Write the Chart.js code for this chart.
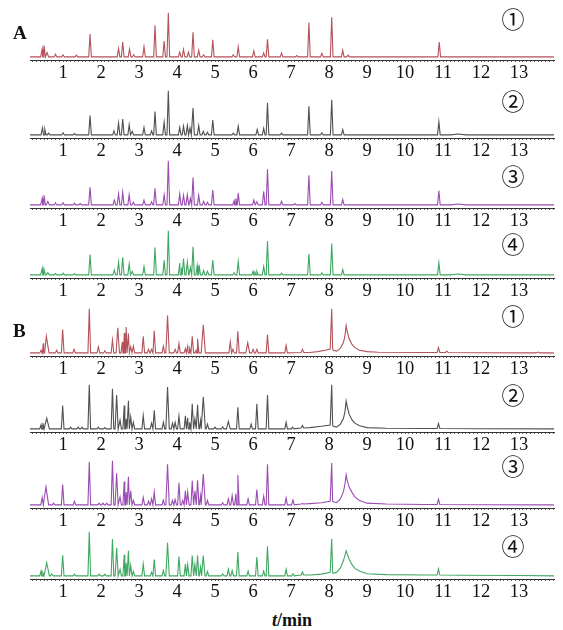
<!DOCTYPE html>
<html>
<head>
<meta charset="utf-8">
<script src="https://cdn.jsdelivr.net/npm/chart.js@4.4.1/dist/chart.umd.min.js"></script>
<style>
  html, body { margin: 0; padding: 0; background: #fff; }
  #wrap { position: relative; width: 563px; height: 630px; overflow: hidden; background: #fff; }
  #wrap canvas { position: absolute; left: 0; }
  .lbl { position: absolute; color: #111; white-space: nowrap; }
  .grp { font-family: "Liberation Serif", serif; font-weight: bold; font-size: 19px; }
  .num { font-family: "Noto Sans CJK SC", "DejaVu Sans", sans-serif; font-size: 23px; transform: translate(-50%, -50%); }
  .unit { font-family: "Liberation Serif", serif; font-weight: bold; font-size: 18px; transform: translate(-50%, -50%); }
</style>
</head>
<body>
<div id="wrap"></div>
<script>
// retention time axis (min)
const X_MIN = 0.13;
const X_MAX = 13.92;
const tickStep = 0.1;
const sampleLabels = ['①', '②', '③', '④'];
const groupLabels = ['A', 'B'];
const axisTitle = 'min';

// peaks: [time, relative height, half width?, base level?]
const peaksA1 = [
  [0.45, 18, 0.04], [0.5, 26], [0.58, 10, 0.04], [0.8, 6], [1.0, 5], [1.35, 4], [1.71, 52],
  [2.46, 19], [2.57, 34], [2.75, 18], [2.86, 5], [3.13, 23], [3.42, 72], [3.66, 36], [3.77, 100],
  [4.07, 11], [4.17, 17], [4.3, 11], [4.42, 56], [4.57, 15], [4.7, 5], [4.94, 39], [5.48, 5], [5.61, 23],
  [6.02, 14], [6.28, 9], [6.38, 40], [6.75, 9], [7.15, 3], [7.47, 78], [7.81, 8], [8.07, 90], [8.36, 15], [8.5, 4],
  [10.9, 34]
];
const peaksA2 = [
  [0.46, 16, 0.04], [0.52, 13], [0.62, 4], [1.0, 5], [1.3, 3], [1.71, 44],
  [2.34, 9], [2.46, 27], [2.57, 36], [2.74, 23], [2.82, 8], [3.13, 17], [3.33, 9], [3.42, 53], [3.66, 29], [3.77, 100],
  [4.07, 17], [4.17, 20], [4.27, 21], [4.34, 16], [4.42, 61], [4.57, 21], [4.69, 8], [4.8, 6], [4.94, 34],
  [5.48, 4], [5.61, 20], [6.11, 12], [6.28, 15], [6.38, 73], [6.75, 4], [7.47, 65], [7.81, 5], [8.07, 80], [8.36, 12],
  [10.89, 30], [11.4, 2, 0.2]
];
const peaksA3 = [
  [0.45, 15, 0.04], [0.5, 22], [0.6, 8, 0.04], [0.8, 5], [1.0, 5], [1.3, 4], [1.45, 3], [1.71, 40],
  [2.35, 11], [2.46, 25], [2.57, 29], [2.74, 23], [2.85, 6], [3.13, 11], [3.33, 7], [3.42, 38], [3.66, 23], [3.77, 100],
  [4.07, 25], [4.17, 22], [4.27, 23], [4.35, 15], [4.42, 62], [4.57, 22], [4.7, 8], [4.8, 6], [4.94, 34],
  [5.5, 9], [5.55, 15], [5.61, 27], [6.02, 11], [6.1, 7], [6.28, 31], [6.38, 81], [6.75, 8], [7.1, 3],
  [7.47, 67], [7.81, 6], [8.07, 77], [8.36, 12],
  [10.89, 32], [11.4, 2, 0.2]
];
const peaksA4 = [
  [0.45, 15, 0.04], [0.5, 13], [0.6, 5, 0.04], [0.8, 3], [1.0, 4], [1.3, 3], [1.71, 46],
  [2.35, 11], [2.46, 29], [2.57, 40], [2.74, 25], [2.82, 8], [3.13, 19], [3.42, 62], [3.66, 33], [3.77, 100],
  [4.07, 27], [4.12, 17], [4.17, 37], [4.27, 29], [4.35, 17], [4.42, 64], [4.53, 21], [4.58, 23], [4.7, 10], [4.8, 8], [4.94, 34],
  [5.5, 5], [5.61, 30], [6.0, 8], [6.05, 8], [6.1, 8], [6.28, 19], [6.38, 77], [6.75, 4], [7.47, 48], [7.81, 5], [8.07, 71], [8.36, 12],
  [10.89, 28], [11.4, 2, 0.2]
];
const peaksB1 = [
  [0.42, 6], [0.48, 22], [0.56, 38, 0.07], [0.83, 6], [0.99, 53], [1.29, 8], [1.69, 100], [1.93, 14], [2.1, 5],
  [2.3, 29], [2.44, 57, 0.045], [2.56, 25], [2.61, 45], [2.66, 59], [2.72, 44], [2.78, 14], [2.85, 15],
  [3.11, 38], [3.25, 8], [3.33, 8], [3.4, 50], [3.64, 15], [3.75, 85, 0.045], [3.95, 8], [4.05, 21], [4.22, 10], [4.28, 15], [4.33, 10],
  [4.4, 38], [4.5, 6], [4.54, 32], [4.69, 64, 0.055], [5.4, 25], [5.47, 8], [5.6, 49], [5.86, 23, 0.05], [6.0, 8], [6.1, 8],
  [6.38, 41], [6.87, 17], [7.3, 8, 0.035, 1], [8.07, 100, 0.025, 9], [10.88, 12, 0.035, 1], [11.1, 4, 0.035, 1], [13.5, 2, 0.05]
];
const peaksB2 = [
  [0.42, 9], [0.47, 13], [0.57, 24, 0.07], [0.99, 53], [1.2, 4], [1.4, 4], [1.5, 4], [1.69, 100], [1.93, 4], [2.1, 3],
  [2.3, 91], [2.41, 77, 0.04], [2.5, 20], [2.61, 53], [2.66, 23], [2.72, 64], [2.78, 27], [2.85, 15],
  [3.11, 30], [3.33, 13], [3.4, 42], [3.64, 15], [3.75, 95, 0.045], [3.88, 13], [3.95, 15], [4.05, 29], [4.22, 30], [4.28, 25], [4.33, 15],
  [4.4, 57], [4.47, 23], [4.54, 55], [4.62, 19], [4.69, 73, 0.055], [4.8, 11], [5.0, 4], [5.2, 5], [5.35, 17, 0.05], [5.6, 49], [5.95, 11],
  [6.1, 57], [6.38, 77], [6.87, 15], [7.04, 4], [7.3, 8, 0.035, 2], [8.07, 100, 0.025, 9], [10.88, 12, 0.035, 1]
];
const peaksB3 = [
  [0.45, 17], [0.55, 41, 0.07], [0.75, 4], [0.99, 46], [1.3, 8], [1.69, 98], [1.95, 4], [2.05, 4], [2.15, 4],
  [2.3, 100], [2.41, 72, 0.04], [2.5, 18], [2.61, 53], [2.66, 29], [2.72, 64], [2.78, 32], [2.85, 10],
  [3.11, 17], [3.25, 8], [3.33, 14], [3.4, 29], [3.64, 11], [3.75, 92, 0.045], [3.88, 10], [3.95, 12], [4.05, 50], [4.15, 10], [4.22, 32], [4.28, 29],
  [4.4, 55], [4.47, 32], [4.54, 56], [4.62, 21], [4.69, 70, 0.055], [4.8, 10], [5.2, 5], [5.35, 14], [5.45, 21], [5.55, 26], [5.6, 68], [5.87, 14],
  [6.1, 35], [6.28, 20], [6.38, 92], [6.87, 16], [7.05, 11], [7.3, 3, 0.035, 2], [8.07, 95, 0.025, 8], [10.88, 13, 0.035, 1]
];
const peaksB4 = [
  [0.42, 11], [0.47, 7], [0.57, 30, 0.07], [0.7, 5], [0.99, 47], [1.3, 4], [1.69, 100], [1.95, 4], [2.1, 4],
  [2.3, 84], [2.41, 64, 0.04], [2.5, 15], [2.61, 48], [2.66, 30], [2.72, 57], [2.78, 24], [2.85, 10],
  [3.11, 27], [3.33, 8], [3.4, 37], [3.64, 12], [3.75, 76, 0.045], [4.05, 44], [4.22, 27], [4.28, 26],
  [4.4, 46], [4.47, 26], [4.54, 46], [4.62, 20], [4.69, 46, 0.045], [4.8, 10], [5.2, 5], [5.35, 15], [5.45, 12], [5.6, 54], [5.87, 11],
  [6.1, 43], [6.28, 11], [6.38, 67], [6.87, 15], [7.05, 5], [7.3, 9, 0.035, 2], [8.07, 84, 0.025, 8], [10.88, 16, 0.035, 2]
];

// baseline drift and the broad tailing peak near 8.45 min: [time, relative height]
const driftB1 = [[7.5, 1], [7.7, 3], [7.9, 6], [8.03, 9], [8.11, 6], [8.2, 4], [8.3, 11], [8.38, 24], [8.42, 40], [8.45, 62],
  [8.48, 48], [8.53, 32], [8.6, 20], [8.68, 12], [8.8, 6], [9.0, 3], [9.3, 1.5], [10.5, 1], [12, 0.5]];
const driftB2 = [[7.5, 3], [7.8, 6], [8.03, 9], [8.11, 6], [8.2, 4], [8.3, 11], [8.38, 24], [8.42, 40], [8.45, 63],
  [8.48, 50], [8.53, 33], [8.6, 21], [8.68, 13], [8.8, 7], [9.0, 3], [9.5, 1.5], [10.5, 1], [12, 0.5]];
const driftB3 = [[7.5, 3], [7.8, 5], [8.03, 8], [8.11, 7], [8.2, 5], [8.3, 14], [8.38, 30], [8.42, 48], [8.45, 68],
  [8.48, 55], [8.53, 40], [8.6, 29], [8.68, 18], [8.8, 10], [9.0, 4], [9.5, 2], [10.5, 1], [12, 0.5]];
const driftB4 = [[7.5, 2], [7.8, 4], [8.03, 8], [8.11, 6], [8.2, 8], [8.3, 18], [8.38, 35], [8.42, 47], [8.45, 57],
  [8.48, 50], [8.53, 38], [8.6, 26], [8.68, 17], [8.8, 11], [9.0, 5], [9.5, 3], [10.5, 2], [11.5, 1.5], [13, 1]];

const traceColors = ['#b4525a', '#505050', '#9a4cb2', '#3fa862'];
const PEAK_W = 0.035;

// layout: y of the time axis line for each trace
const panels = [
  { peaks: peaksA1, drift: null, color: 0, axisY: 60, num: 0, numY: 18 },
  { peaks: peaksA2, drift: null, color: 1, axisY: 137.5, num: 1, numY: 100 },
  { peaks: peaksA3, drift: null, color: 2, axisY: 207.5, num: 2, numY: 175 },
  { peaks: peaksA4, drift: null, color: 3, axisY: 277.5, num: 3, numY: 243 },
  { peaks: peaksB1, drift: driftB1, color: 0, axisY: 356, num: 0, numY: 315 },
  { peaks: peaksB2, drift: driftB2, color: 1, axisY: 431.5, num: 1, numY: 394 },
  { peaks: peaksB3, drift: driftB3, color: 2, axisY: 507.5, num: 2, numY: 465 },
  { peaks: peaksB4, drift: driftB4, color: 3, axisY: 578.5, num: 3, numY: 545 }
];

const PLOT_H = 52;
const AXIS_H = 26;

function buildTrace(peaks, drift) {
  const pts = [{ x: X_MIN, y: 0 }, { x: X_MAX, y: 0 }];
  peaks.forEach(([t, h, w = PEAK_W, base = 0]) => {
    pts.push({ x: t - w, y: base }, { x: t, y: h }, { x: t + w, y: base });
  });
  (drift || []).forEach(([t, y]) => pts.push({ x: t, y: y }));
  return pts.sort((a, b) => a.x - b.x);
}

function isWhole(v) {
  return Math.abs(v - Math.round(v)) < 1e-6;
}

const wrap = document.getElementById('wrap');

panels.forEach((p) => {
  const canvas = document.createElement('canvas');
  canvas.width = 563;
  canvas.height = PLOT_H + AXIS_H;
  canvas.style.top = (p.axisY - PLOT_H) + 'px';
  wrap.appendChild(canvas);

  new Chart(canvas, {
    type: 'line',
    data: {
      datasets: [{
        data: buildTrace(p.peaks, p.drift),
        borderColor: traceColors[p.color],
        borderWidth: 1.1,
        pointRadius: 0,
        tension: 0,
        fill: false,
        clip: false
      }]
    },
    options: {
      responsive: false,
      animation: false,
      events: [],
      layout: { padding: { left: 30, right: 9, top: 0, bottom: 0 } },
      plugins: { legend: { display: false }, tooltip: { enabled: false } },
      scales: {
        x: {
          type: 'linear',
          min: X_MIN,
          max: X_MAX,
          afterFit: (scale) => { scale.height = AXIS_H; },
          border: { display: true, color: '#333', width: 1 },
          grid: { display: true, drawOnChartArea: false, drawTicks: true, tickLength: 2, color: '#666', lineWidth: 1 },
          ticks: {
            stepSize: tickStep,
            autoSkip: false,
            maxRotation: 0,
            includeBounds: false,
            padding: 0,
            color: '#111',
            font: { family: '"Liberation Serif", serif', size: 18.5 },
            callback: (v) => (isWhole(v) ? String(Math.round(v)) : '')
          }
        },
        y: { display: false, min: -7, max: 111 }
      }
    }
  });

  const num = document.createElement('div');
  num.className = 'lbl num';
  num.style.left = '513px';
  num.style.top = p.numY + 'px';
  num.textContent = sampleLabels[p.num];
  wrap.appendChild(num);
});

[[groupLabels[0], 22], [groupLabels[1], 320]].forEach(([txt, y]) => {
  const d = document.createElement('div');
  d.className = 'lbl grp';
  d.style.left = '13px';
  d.style.top = y + 'px';
  d.textContent = txt;
  wrap.appendChild(d);
});

const unit = document.createElement('div');
unit.className = 'lbl unit';
unit.style.left = '292px';
unit.style.top = '620px';
unit.innerHTML = '<i>t</i>/' + axisTitle;
wrap.appendChild(unit);
</script>
</body>
</html>
